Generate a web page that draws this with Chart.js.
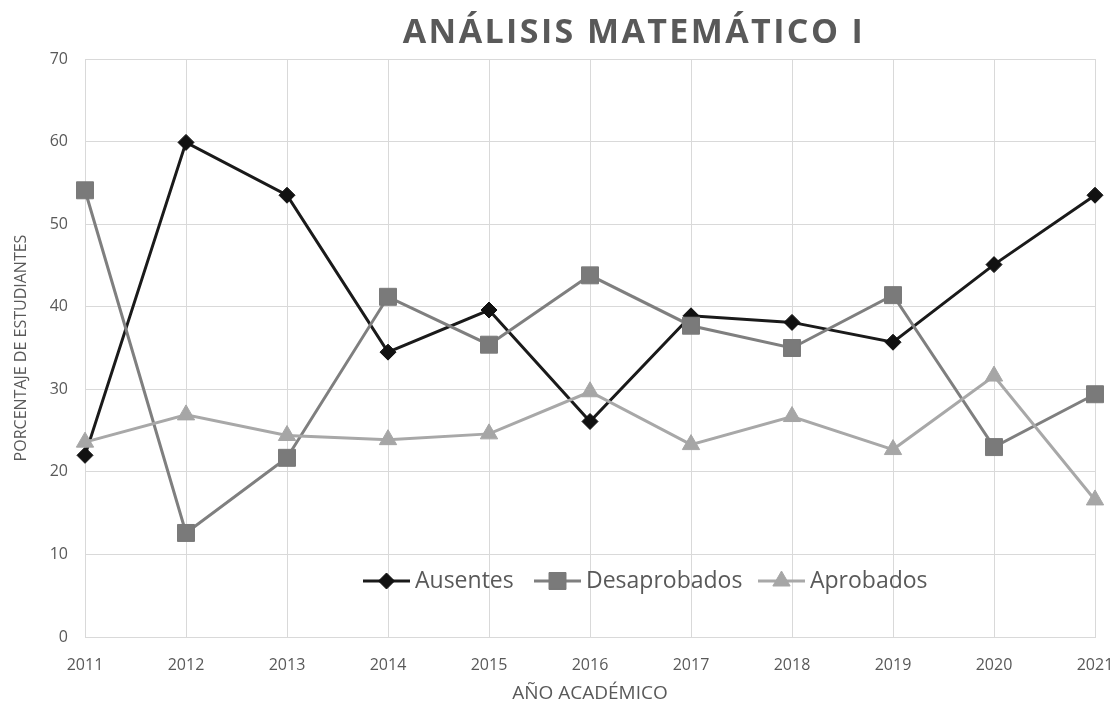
<!DOCTYPE html>
<html>
<head>
<meta charset="utf-8">
<script src="https://cdn.jsdelivr.net/npm/chart.js@4.4.1/dist/chart.umd.min.js"></script>
<style>
  html, body { margin: 0; padding: 0; background: #ffffff; }
  #wrap { width: 1120px; height: 711px; position: relative; }
</style>
</head>
<body>
<div id="wrap"><canvas id="c" width="1120" height="711"></canvas></div>
<script>
const years = ["2011","2012","2013","2014","2015","2016","2017","2018","2019","2020","2021"];
const ausentes     = [22.0, 59.9, 53.5, 34.5, 39.6, 26.1, 38.9, 38.1, 35.7, 45.1, 53.5];
const desaprobados = [54.1, 12.6, 21.7, 41.2, 35.4, 43.8, 37.7, 35.0, 41.4, 23.0, 29.4];
const aprobados    = [23.6, 26.9, 24.4, 23.9, 24.6, 29.7, 23.3, 26.7, 22.7, 31.6, 16.6];
const seriesNames  = ["Ausentes", "Desaprobados", "Aprobados"];
const chartTitle   = "ANÁLISIS MATEMÁTICO I";
const xTitle       = "AÑO ACADÉMICO";
const yTitle       = "PORCENTAJE DE ESTUDIANTES";

const FONT = "'Open Sans', 'Noto Sans', sans-serif";
const TXT = "#595959";

const titlePlugin = {
  id: 'customTitle',
  afterDraw(chart) {
    const ctx = chart.ctx;
    ctx.save();
    ctx.font = "bold 34px " + FONT;
    ctx.fillStyle = TXT;
    ctx.textAlign = "center";
    ctx.textBaseline = "middle";
    ctx.letterSpacing = "2.4px";
    ctx.fillText(chartTitle, 634, 33);
    ctx.restore();
  }
};

const legendPlugin = {
  id: 'inlineLegend',
  afterDatasetsDraw(chart) {
    const ctx = chart.ctx;
    const y = 581;
    const starts = [363, 534, 758];
    ctx.save();
    ctx.font = "23px " + FONT;
    ctx.textBaseline = "middle";
    ctx.textAlign = "left";
    chart.data.datasets.forEach((ds, i) => {
      const x0 = starts[i];
      const lineLen = 47;
      ctx.strokeStyle = ds.borderColor;
      ctx.lineWidth = ds.borderWidth;
      ctx.beginPath();
      ctx.moveTo(x0, y);
      ctx.lineTo(x0 + lineLen, y);
      ctx.stroke();
      ctx.fillStyle = ds.pointBackgroundColor;
      ctx.strokeStyle = ds.pointBorderColor;
      ctx.lineWidth = 1;
      Chart.helpers.drawPoint(ctx, {pointStyle: ds.pointStyle, radius: ds.pointRadius, rotation: 0, borderWidth: 1}, x0 + lineLen / 2, y);
      ctx.fillStyle = TXT;
      ctx.fillText(ds.label, x0 + lineLen + 5, y);
    });
    ctx.restore();
  }
};

new Chart(document.getElementById('c'), {
  type: 'line',
  data: {
    labels: years,
    datasets: [
      {
        label: seriesNames[0], data: ausentes, order: 3,
        borderColor: '#1a1a1a', borderWidth: 3,
        pointStyle: 'rectRot', pointRadius: 8, pointHoverRadius: 8,
        pointBackgroundColor: '#111111', pointBorderColor: '#111111', pointBorderWidth: 1
      },
      {
        label: seriesNames[1], data: desaprobados, order: 2,
        borderColor: '#7f7f7f', borderWidth: 3,
        pointStyle: 'rect', pointRadius: 12, pointHoverRadius: 12,
        pointBackgroundColor: '#7a7a7a', pointBorderColor: '#7a7a7a', pointBorderWidth: 1
      },
      {
        label: seriesNames[2], data: aprobados, order: 1,
        borderColor: '#a8a8a8', borderWidth: 3,
        pointStyle: 'triangle', pointRadius: 10, pointHoverRadius: 10,
        pointBackgroundColor: '#a6a6a6', pointBorderColor: '#a6a6a6', pointBorderWidth: 1
      }
    ]
  },
  options: {
    responsive: false,
    animation: false,
    devicePixelRatio: 1,
    layout: { padding: { top: 59, right: 25, bottom: 0, left: 0 } },
    plugins: {
      legend: { display: false },
      title: { display: false },
      tooltip: { enabled: false }
    },
    elements: { line: { tension: 0 } },
    scales: {
      x: {
        type: 'category',
        offset: false,
        afterFit(scale) { scale.height = 74; scale.paddingLeft = 0; scale.paddingRight = 0; },
        grid: { color: '#d9d9d9', lineWidth: 1, drawTicks: false },
        border: { color: '#d9d9d9' },
        ticks: { color: TXT, font: { family: FONT, size: 16 }, padding: 19, maxRotation: 0 },
        title: { display: true, text: xTitle, color: TXT, font: { family: FONT, size: 19 }, padding: { top: 0, bottom: 6 } }
      },
      y: {
        min: 0, max: 70,
        afterFit(scale) { scale.width = 85; scale.paddingTop = 0; scale.paddingBottom = 0; },
        grid: { color: '#d9d9d9', lineWidth: 1, drawTicks: false },
        border: { color: '#d9d9d9' },
        ticks: { stepSize: 10, color: TXT, font: { family: FONT, size: 16 }, padding: 17 },
        title: { display: true, text: yTitle, color: TXT, font: { family: FONT, size: 16 }, padding: { top: 12, bottom: 0 } }
      }
    }
  },
  plugins: [titlePlugin, legendPlugin]
});
</script>
</body>
</html>
